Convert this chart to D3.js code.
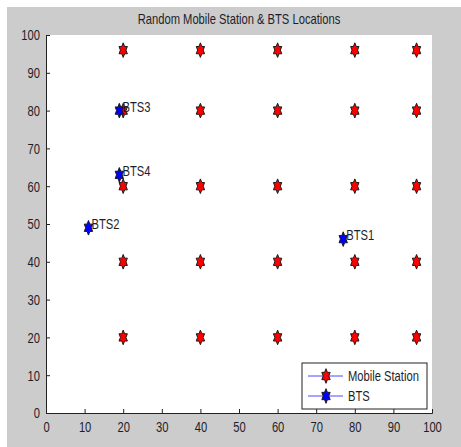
<!DOCTYPE html>
<html lang="en">
<head>
<meta charset="UTF-8">
<title>Random Mobile Station & BTS Locations</title>
<script src="https://cdn.jsdelivr.net/npm/d3@7"></script>
<style>
    body { margin: 0; background: #fff; }
    svg text { font-family: "Liberation Sans", Arial, sans-serif; fill: #1e1e2a; }
</style>
</head>
<body>
<div id="chart"></div>
<script>
// grid of mobile stations
var msX = [20, 40, 60, 80, 96];
var msY = [20, 40, 60, 80, 96];
// base stations
var btsNames = ["BTS1", "BTS2", "BTS3", "BTS4"];
var btsX = [77, 11, 19, 19];
var btsY = [46, 49, 80, 63];
var xTicks = [0, 10, 20, 30, 40, 50, 60, 70, 80, 90, 100];
var yTicks = [0, 10, 20, 30, 40, 50, 60, 70, 80, 90, 100];
var legendLabels = ["Mobile Station", "BTS"];

var W = 461, H = 447;
var margin = { top: 35, right: 29, bottom: 34, left: 46 };
var fontSize = 14;
var squeeze = 0.8;   // text in the picture is horizontally compressed

var svg = d3.select("#chart").append("svg")
    .attr("width", W)
    .attr("height", H);

// grey figure background
svg.append("rect")
    .attr("x", 7).attr("y", 7)
    .attr("width", W - 7).attr("height", H - 7)
    .attr("fill", "#cccccc");

var x = d3.scaleLinear().domain([0, 100]).range([margin.left, W - margin.right]);
var y = d3.scaleLinear().domain([0, 100]).range([H - margin.bottom, margin.top]);

svg.append("rect")
    .attr("x", x(0)).attr("y", y(100))
    .attr("width", x(100) - x(0)).attr("height", y(0) - y(100))
    .attr("fill", "#fff");

// place a text at (tx,ty) with horizontal squeeze
function squeezeText(sel, tx, ty) {
    sel.attr("x", 0).attr("y", 0)
        .attr("font-size", fontSize)
        .attr("transform", function(d, i) {
            var px = typeof tx === "function" ? tx(d, i) : tx;
            var py = typeof ty === "function" ? ty(d, i) : ty;
            return "translate(" + px + "," + py + ") scale(" + squeeze + ",1)";
        });
}

// hexagram marker, squeezed horizontally like the picture
function hexagram(r) {
    var pts = [];
    for (var i = 0; i < 12; i++) {
        var a = -Math.PI / 2 + i * Math.PI / 6;
        var rr = i % 2 === 0 ? r : r / Math.sqrt(3);
        pts.push([Math.cos(a) * rr * 0.66, Math.sin(a) * rr]);
    }
    return "M" + pts.join("L") + "Z";
}
var starPath = hexagram(7.3);

// axes
var xAxis = d3.axisBottom(x).tickValues(xTicks).tickSizeInner(-4).tickSizeOuter(-4);
var yAxis = d3.axisLeft(y).tickValues(yTicks).tickSizeInner(-4).tickSizeOuter(-4);

var gx = svg.append("g").attr("transform", "translate(0," + y(0) + ")").call(xAxis);
var gy = svg.append("g").attr("transform", "translate(" + x(0) + ",0)").call(yAxis);
[gx, gy].forEach(function(g) {
    g.select(".domain").attr("stroke", "#222");
    g.selectAll(".tick line").attr("stroke", "#222");
    g.selectAll("text").attr("fill", "#1e1e2a").attr("font-family", null);
});
squeezeText(gx.selectAll(".tick text").attr("dy", "0.71em"), 0, 9);
squeezeText(gy.selectAll(".tick text").attr("dy", "0.35em"), -6, 0);

// mobile stations
var ms = [];
msY.forEach(function(yy) {
    msX.forEach(function(xx) { ms.push({ x: xx, y: yy }); });
});

svg.append("g").selectAll("path")
    .data(ms)
    .join("path")
    .attr("d", starPath)
    .attr("transform", function(d) { return "translate(" + x(d.x) + "," + y(d.y) + ")"; })
    .attr("fill", "#ff0000")
    .attr("stroke", "#1a1a1a")
    .attr("stroke-width", 1);

// base stations
var bts = btsNames.map(function(n, i) { return { name: n, x: btsX[i], y: btsY[i] }; });

svg.append("g").selectAll("path")
    .data(bts)
    .join("path")
    .attr("d", starPath)
    .attr("transform", function(d) { return "translate(" + x(d.x) + "," + y(d.y) + ")"; })
    .attr("fill", "#0000ff")
    .attr("stroke", "#1a1a1a")
    .attr("stroke-width", 1);

var btsLabels = svg.append("g").selectAll("text")
    .data(bts)
    .join("text")
    .attr("dy", "0.35em")
    .text(function(d) { return d.name; });
squeezeText(btsLabels,
    function(d) { return x(d.x + 0.8); },
    function(d) { return y(d.y + 1); });

// title
var title = svg.append("text")
    .attr("text-anchor", "middle")
    .text("Random Mobile Station & BTS Locations");
squeezeText(title, (x(0) + x(100)) / 2, 24);

// legend
var legend = svg.append("g").attr("transform", "translate(302,363)");
legend.append("rect")
    .attr("width", 125).attr("height", 46)
    .attr("fill", "#fff")
    .attr("stroke", "#222");

var rows = legend.selectAll("g.row")
    .data(legendLabels)
    .join("g")
    .attr("class", "row")
    .attr("transform", function(d, i) { return "translate(0," + (13 + i * 20) + ")"; });

rows.append("line")
    .attr("x1", 6).attr("x2", 41)
    .attr("stroke", "#4a4aff").attr("stroke-width", 1);
rows.append("path")
    .attr("d", starPath)
    .attr("transform", "translate(24,0)")
    .attr("fill", function(d, i) { return i === 0 ? "#ff0000" : "#0000ff"; })
    .attr("stroke", "#1a1a1a")
    .attr("stroke-width", 1);
var legendText = rows.append("text")
    .attr("dy", "0.35em")
    .text(function(d) { return d; });
squeezeText(legendText, 46, 0);
</script>
</body>
</html>
